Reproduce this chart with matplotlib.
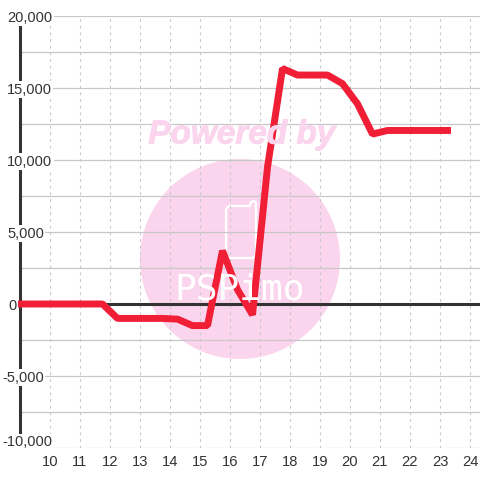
import matplotlib
matplotlib.use('Agg')
import matplotlib.pyplot as plt
import matplotlib.patheffects as pe
from matplotlib.lines import Line2D
from matplotlib.patches import Circle
from matplotlib.transforms import Affine2D

plt.rcParams['font.family'] = ['Liberation Sans', 'DejaVu Sans']

hours = [9.0, 9.75, 10.25, 10.75, 11.25, 11.75, 12.25, 12.75, 13.25, 13.75, 14.25, 14.75, 15.25, 15.75,
         16.25, 16.75, 17.25, 17.75, 18.25, 18.75, 19.25, 19.75, 20.25, 20.75, 21.25, 21.75, 22.25,
         22.75, 23.25]
values = [0, 0, 0, 0, 0, 0, -1000, -1000, -1000, -1000, -1050, -1500, -1500, 3700,
          1000, -750, 9500, 16350, 15900, 15900, 15900, 15300, 13900, 11800, 12050, 12050, 12050,
          12050, 12050]
x_ticks = list(range(10, 25))
y_major = [20000, 15000, 10000, 5000, 0, -5000, -10000]
y_minor = [17500, 12500, 7500, 2500, -2500, -7500]
y_labels = ['20,000', '15,000', '10,000', '5,000', '0', '-5,000', '-10,000']

W = 480
fig = plt.figure(figsize=(4.8, 4.8), dpi=100, facecolor='white')
# pixel transform, y going down like the picture
px = Affine2D().scale(1 / W, -1 / W).translate(0, 1) + fig.transFigure

# watermark goes under everything
pink = '#fbd5ee'
fig.add_artist(Circle((240, 259), 100, transform=px, fc=pink, ec='none', zorder=0))
fig.text(242 / W, 1 - 135 / W, 'Powered by', color=pink, fontsize=24, fontweight='bold', style='italic',
         ha='center', va='center', zorder=0, path_effects=[pe.withStroke(linewidth=0.6, foreground=pink)])
fig.add_artist(Line2D([226, 226, 229, 250, 251, 254, 256, 256, 253, 229, 226, 226],
                      [240, 209, 206, 206, 202, 201, 203, 255, 258, 258, 255, 240],
                      transform=px, color='white', lw=1.6, zorder=0))
fig.text(240 / W, 1 - 289 / W, 'PSPimo', color='white', fontsize=26, family='DejaVu Sans Mono',
         ha='center', va='center', zorder=0)

ax = fig.add_axes([20 / W, 1 - 448 / W, 460 / W, 432 / W])
ax.patch.set_alpha(0)
ax.set_xlim(9, 9 + 460 / 30)
ax.set_ylim(-10000, 20000)
for s in ax.spines.values():
    s.set_visible(False)
ax.tick_params(length=0)
ax.set_yticks([])
ax.set_xticks(x_ticks)
ax.set_xticklabels([str(t) for t in x_ticks], fontsize=10.6, color='#333333')
ax.tick_params(axis='x', pad=5)

ax.grid(axis='x', color='#c8c8c8', lw=0.8, ls=(0, (2.5, 3.5)), zorder=1)
for v in y_major + y_minor:
    ax.axhline(v, color='#c8c8c8', lw=0.9, zorder=1)
ax.axhline(0, color='#333333', lw=2.2, zorder=2)
ax.axvline(9, color='#333333', lw=2.2, clip_on=False, zorder=2)

# labels sit on a white box that cuts the axis line
for v, lab in zip(y_major, y_labels):
    xpos = 2 if v < 0 else (8 if v == 0 else 7)
    yoff = {-10000: 5.5}.get(v, -1.5)
    ypix = 448 - (v + 10000) / 30000 * 432 - yoff
    fig.text(xpos / W, 1 - ypix / W, lab, fontsize=10.5, color='#333333', ha='left', va='center', zorder=5,
             bbox=dict(fc='white', ec='none', pad=1.0))

ax.plot(hours, values, color='#f01f36', lw=5, solid_capstyle='projecting', solid_joinstyle='bevel',
        clip_on=False, zorder=4)

fig.savefig('out.png', dpi=100)
